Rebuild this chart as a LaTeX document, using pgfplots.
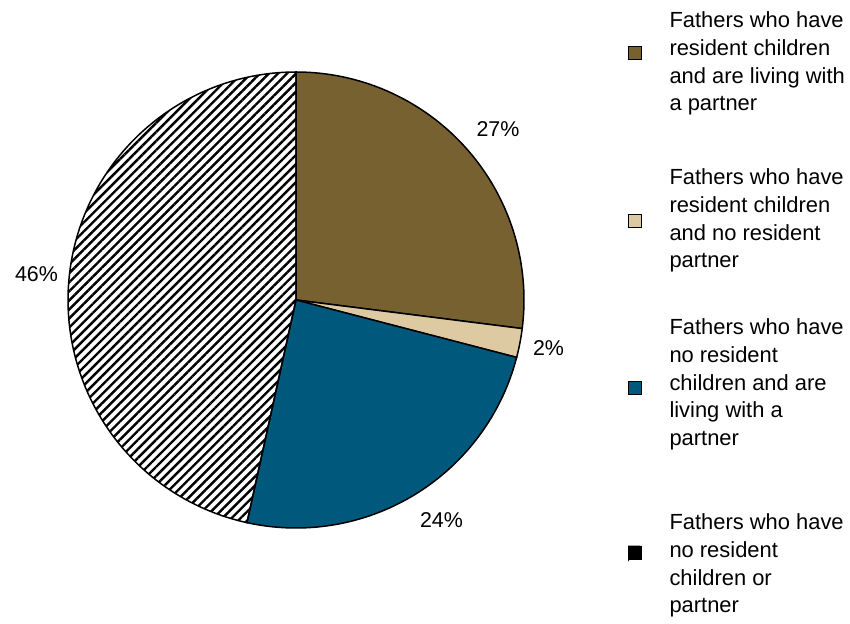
\documentclass[border=0pt]{standalone}
\usepackage{fontspec}
\setmainfont{Liberation Sans}
\usepackage{pgfplots}
\pgfplotsset{compat=1.18}
\usetikzlibrary{patterns.meta}
\definecolor{brownc}{HTML}{776131}
\definecolor{beigec}{HTML}{DDCAA3}
\definecolor{bluec}{HTML}{00587C}
% shares of the four groups (percent)
\def\valA{27.0}
\def\valB{2.05}
\def\valC{24.4}
\def\valD{46.55}
\pgfmathsetmacro\angA{90}
\pgfmathsetmacro\angB{\angA-3.6*\valA}
\pgfmathsetmacro\angC{\angB-3.6*\valB}
\pgfmathsetmacro\angD{\angC-3.6*\valC}
\pgfmathsetmacro\angE{\angD-3.6*\valD}
\def\cx{296}\def\cy{323}\def\rr{228}
\begin{document}
\begin{tikzpicture}
\begin{axis}[
  width=850bp, height=623bp, scale only axis,
  xmin=0, xmax=850, ymin=0, ymax=623,
  hide axis, clip=false,
  legend cell align=left,
  legend style={draw=none, fill=none, inner xsep=0pt, inner ysep=0pt, outer sep=0pt,
    at={(0.73882,0.98620)}, anchor=north west,
    column sep=27bp, row sep=0pt,
    nodes={inner sep=0pt, outer sep=0pt, text depth=},
    font=\fontsize{22}{27.7}\selectfont},
]
\path (rel axis cs:0,0) rectangle (rel axis cs:1,1);
\addplot[fill=brownc, draw=black, line width=1.5bp, domain=\angB:\angA, samples=80,
  legend image code/.code={\draw[black, line width=1bp, fill=brownc] (0bp,27.1bp) rectangle (13bp,40.1bp);}]
  ({\cx+\rr*cos(x)},{\cy+\rr*sin(x)}) -- (axis cs:\cx,\cy) -- cycle;
\addlegendentry{\parbox[c][157bp][t]{180bp}{\raggedright\strut Fathers who have\\resident children\\and are living with\\a partner}}
\addplot[fill=beigec, draw=black, line width=1.5bp, domain=\angC:\angB, samples=20,
  legend image code/.code={\draw[black, line width=1bp, fill=beigec] (0bp,13.1bp) rectangle (13bp,26.1bp);}]
  ({\cx+\rr*cos(x)},{\cy+\rr*sin(x)}) -- (axis cs:\cx,\cy) -- cycle;
\addlegendentry{\parbox[c][150bp][t]{180bp}{\raggedright\strut Fathers who have\\resident children\\and no resident\\partner}}
\addplot[fill=bluec, draw=black, line width=1.5bp, domain=\angD:\angC, samples=80,
  legend image code/.code={\draw[black, line width=1bp, fill=bluec] (0bp,18.1bp) rectangle (13bp,31.1bp);}]
  ({\cx+\rr*cos(x)},{\cy+\rr*sin(x)}) -- (axis cs:\cx,\cy) -- cycle;
\addlegendentry{\parbox[c][195bp][t]{180bp}{\raggedright\strut Fathers who have\\no resident\\children and are\\living with a\\partner}}
\addplot[draw=black, line width=1.5bp, pattern={Lines[angle=45,distance=6.4bp,line width=2.4bp]}, pattern color=black,
  domain=\angE:\angD, samples=120,
  legend image code/.code={\fill[white] (0bp,7.1bp) rectangle (13bp,20.1bp);
     \fill[black] (0bp,7.1bp) -- (0bp,20.1bp) -- (10bp,20.1bp) -- cycle;
     \draw[black, line width=1bp] (0bp,7.1bp) rectangle (13bp,20.1bp);}]
  ({\cx+\rr*cos(x)},{\cy+\rr*sin(x)}) -- (axis cs:\cx,\cy) -- cycle;
\addlegendentry{\parbox[c][112bp][t]{180bp}{\raggedright\strut Fathers who have\\no resident\\children or\\partner}}
\node[anchor=base, font=\fontsize{21.5}{25.8}\selectfont] at (axis cs:498,486) {27\%};
\node[anchor=base, font=\fontsize{21.5}{25.8}\selectfont] at (axis cs:548.5,268) {2\%};
\node[anchor=base, font=\fontsize{21.5}{25.8}\selectfont] at (axis cs:441.5,96) {24\%};
\node[anchor=base, font=\fontsize{21.5}{25.8}\selectfont] at (axis cs:36.5,341) {46\%};
\end{axis}
\end{tikzpicture}
\end{document}
